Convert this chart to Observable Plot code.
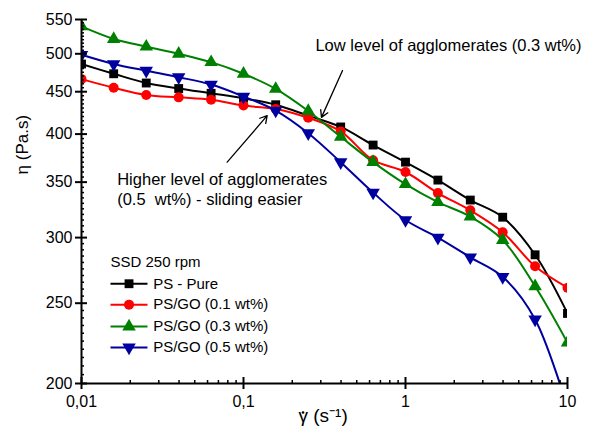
<!DOCTYPE html>
<html><head><meta charset="utf-8">
<script src="https://cdn.jsdelivr.net/npm/d3@7"></script>
<script src="https://cdn.jsdelivr.net/npm/@observablehq/plot@0.6"></script>
<style>body{margin:0;background:#fff;} svg{overflow:visible}</style>
</head><body><div id="chart"></div>
<script>
// ---- data ----
const shearRate = [0.01, 0.0158, 0.0251, 0.0398, 0.0631, 0.1, 0.158, 0.251, 0.398, 0.631, 1, 1.585, 2.512, 3.981, 6.31, 10];
const etaPure  = [486, 473, 461, 454, 448, 442, 434, 421, 408, 388, 370, 352, 333, 317.5, 286, 243];
const etaGO01  = [466, 455, 446, 443, 440, 433, 429, 418.5, 403, 372, 360, 339.5, 323.6, 304.5, 277, 261];
const etaGO03  = [539.5, 521, 510, 500, 488.5, 473, 453.5, 426.5, 397, 370, 348, 331, 318, 298, 262, 224];
const etaGO05  = [498.6, 486, 477, 468.5, 459, 444, 427, 401, 370, 340, 315, 300, 284, 269, 239, 187];
const seriesNames = ["PS - Pure", "PS/GO (0.1 wt%)", "PS/GO (0.3 wt%)", "PS/GO (0.5 wt%)"];
const legendTitle = "SSD 250 rpm";
const xTicks = [0.01, 0.1, 1, 10];
const xTickLabels = ["0,01", "0,1", "1", "10"];
const yTicks = [200, 250, 300, 350, 400, 450, 500, 550];
const yLabel = "η (Pa.s)";
const xLabel = "γ (s⁻¹)";
const noteLow = "Low level of agglomerates (0.3 wt%)";
const noteHigh1 = "Higher level of agglomerates";
const noteHigh2 = "(0.5\u00a0 wt%) - sliding easier";

// ---- styles ----
const colors = ["#000000", "#ff0000", "#008000", "#0000a0"];
const triangleDown = {
  draw(ctx, size) {
    const k = Math.sqrt(size / (3 * Math.sqrt(3)));
    ctx.moveTo(0, 2 * k);
    ctx.lineTo(-Math.sqrt(3) * k, -k);
    ctx.lineTo(Math.sqrt(3) * k, -k);
    ctx.closePath();
  }
};
const symbols = ["square", "circle", "triangle", triangleDown];
const seriesValues = [etaPure, etaGO01, etaGO03, etaGO05];

const W = 591, H = 439, mL = 81, mR = 24, mT = 19, mB = 56;
const fw = W - mL - mR, fh = H - mT - mB;

const xMinor = [];
[0.01, 0.1, 1].forEach(d => { for (let k = 2; k <= 9; k++) xMinor.push(k * d); });
const yMinor = d3.range(205, 550, 5).filter(v => v % 50 !== 0);

const seriesMarks = seriesValues.flatMap((vals, s) => {
  const rows = shearRate.map((x, i) => ({x, y: vals[i]}));
  return [
    Plot.line(rows, {x: "x", y: "y", stroke: colors[s], strokeWidth: 2, curve: "catmull-rom", clip: true}),
    Plot.dot(rows, {x: "x", y: "y", fill: colors[s], stroke: "none", symbol: symbols[s], r: 5, clip: true})
  ];
});

// legend (placed in data space inside the frame)
const legX1 = 0.0151, legX2 = 0.02555, legXm = 0.01965, legXt = 0.0277;
const legY = [263.9, 249.0, 234.3, 221.1];
const legendMarks = seriesNames.flatMap((name, s) => [
  Plot.link([0], {x1: legX1, x2: legX2, y1: legY[s], y2: legY[s], stroke: colors[s], strokeWidth: 2}),
  Plot.dot([0], {x: legXm, y: legY[s], fill: colors[s], symbol: symbols[s], r: 5}),
  Plot.text([name], {x: legXt, y: legY[s], text: d => d, textAnchor: "start", fontSize: 15})
]);

const chart = Plot.plot({
  width: W, height: H,
  marginLeft: mL, marginRight: mR, marginTop: mT, marginBottom: mB,
  style: {fontFamily: "'Liberation Sans', Arial, sans-serif", fontSize: "16px", color: "#000", background: "#fff"},
  x: {type: "log", domain: [0.01, 10]},
  y: {type: "log", domain: [200, 550]},
  marks: [
    Plot.axisX({ticks: xTicks, tickFormat: d => xTickLabels[xTicks.indexOf(d)], tickSize: 0, tickPadding: 12, fontSize: 16, label: null}),
    Plot.axisY({ticks: yTicks, tickFormat: d => String(d), tickSize: 0, tickPadding: 9, fontSize: 16, label: null}),
    ...seriesMarks,
    Plot.ruleY([200], {stroke: "#000", strokeWidth: 2}),
    Plot.ruleX([0.01], {stroke: "#000", strokeWidth: 2}),
    Plot.tickY(yTicks, {y: d => d, insetLeft: -6, insetRight: fw - 6, stroke: "#000", strokeWidth: 2}),
    Plot.tickY(yMinor, {y: d => d, insetLeft: 0, insetRight: fw - 3, stroke: "#000", strokeWidth: 1.5}),
    Plot.tickX(xTicks, {x: d => d, insetTop: fh - 6, insetBottom: -6, stroke: "#000", strokeWidth: 2}),
    Plot.tickX(xMinor, {x: d => d, insetTop: fh - 3, insetBottom: 0, stroke: "#000", strokeWidth: 1.5}),
    Plot.text([yLabel], {y: 357.6, frameAnchor: "left", dx: -59, rotate: -90, text: d => d, fontSize: 17}),
    Plot.text([xLabel], {x: 0.2185, frameAnchor: "bottom", dy: 38, text: d => d, textAnchor: "start", fontSize: 19}),
    Plot.dot([0], {x: 0.2331, frameAnchor: "bottom", dy: 29, r: 1.3, fill: "#000"}),
    Plot.text([legendTitle], {x: legX1, y: 279.9, text: d => d, textAnchor: "start", fontSize: 15}),
    ...legendMarks,
    Plot.text([noteLow], {x: 0.278, y: 511, text: d => d, textAnchor: "start", fontSize: 16.5}),
    Plot.text([noteHigh1], {x: 0.01661, y: 352, text: d => d, textAnchor: "start", fontSize: 16.5}),
    Plot.text([noteHigh2], {x: 0.01661, y: 333.5, text: d => d, textAnchor: "start", fontSize: 16.5}),
    Plot.arrow([0], {x1: 0.4086, y1: 477.3, x2: 0.303, y2: 419, stroke: "#000", strokeWidth: 1.3, headLength: 9, bend: 0}),
    Plot.arrow([0], {x1: 0.0793, y1: 370, x2: 0.140, y2: 421, stroke: "#000", strokeWidth: 1.3, headLength: 9, bend: 0})
  ]
});
document.getElementById("chart").appendChild(chart);
</script>
</body></html>
